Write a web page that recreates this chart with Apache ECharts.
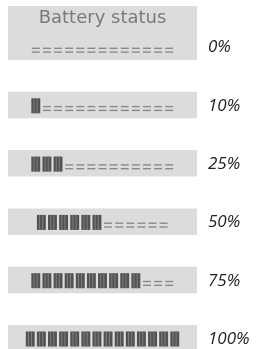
<!DOCTYPE html>
<html>
<head>
<meta charset="utf-8">
<script src="https://cdn.jsdelivr.net/npm/echarts@6/dist/echarts.min.js"></script>
<style>
  html, body { margin: 0; padding: 0; background: #fff; }
  #chart { width: 257px; height: 349px; }
</style>
</head>
<body>
<div id="chart"></div>
<script>
// battery levels, one row each
const levels = ['0%', '10%', '25%', '50%', '75%', '100%'];
// number of solid blocks shown per row
const filledCells = [0, 1, 3, 6, 10, 14];
// number of "=" placeholders per row
const emptyCells = [13, 12, 10, 6, 3, 0];
const heading = 'Battery status';

const rows = levels.map((l, i) => [i, filledCells[i], emptyCells[i]]);

const chart = echarts.init(document.getElementById('chart'));

function renderRow(params, api) {
  const row = api.value(0);
  const filled = api.value(1);
  const empty = api.value(2);
  const cs = params.coordSys;
  const cell = api.size([1, 0])[0];
  const yc = api.coord([0, row])[1];
  const start = -(filled + empty) / 2;
  const children = [];

  // grey panel behind the row
  const top = row === 0 ? yc - 41.5 : yc - 14;
  children.push({
    type: 'rect',
    shape: { x: cs.x, y: top, width: cs.width, height: yc + 12.5 - top },
    style: { fill: '#dcdcdd' }
  });

  if (row === 0) {
    children.push({
      type: 'text',
      style: {
        text: heading,
        x: cs.x + cs.width / 2,
        y: yc - 29.5,
        align: 'center',
        verticalAlign: 'middle',
        fill: '#7a7a7a',
        font: '18px "DejaVu Sans"'
      }
    });
  }

  for (let k = 0; k < filled; k++) {
    const p = api.coord([start + k, row]);
    const x0 = p[0] + 1.1;
    const w = cell - 2.2;
    children.push({
      type: 'rect',
      shape: { x: x0, y: yc - 7.5, width: w, height: 15 },
      style: { fill: '#525252' }
    });
    [0.3, 0.65].forEach(f => {
      children.push({
        type: 'line',
        shape: { x1: x0 + w * f, y1: yc - 7.5, x2: x0 + w * f, y2: yc + 7.5 },
        style: { stroke: '#808080', lineWidth: 1 }
      });
    });
  }

  for (let k = 0; k < empty; k++) {
    const p = api.coord([start + filled + k, row]);
    const x0 = p[0] + 1.6;
    const x1 = p[0] + cell - 1.6;
    [0.8, 4.6].forEach(dy => {
      children.push({
        type: 'line',
        shape: { x1: x0, y1: yc + dy, x2: x1, y2: yc + dy },
        style: { stroke: '#8a8a8a', lineWidth: 1.4 }
      });
    });
  }

  return { type: 'group', children };
}

chart.setOption({
  animation: false,
  backgroundColor: '#fff',
  grid: { left: 8, right: 60, top: 47.5, bottom: 10 },
  xAxis: {
    type: 'value',
    min: -8.5,
    max: 8.5,
    show: false
  },
  yAxis: {
    type: 'value',
    min: 0,
    max: 5,
    interval: 1,
    inverse: true,
    position: 'right',
    axisLine: { show: false },
    axisTick: { show: false },
    splitLine: { show: false },
    axisLabel: {
      margin: 11,
      align: 'left',
      fontSize: 17,
      fontStyle: 'italic',
      fontFamily: 'Open Sans',
      color: '#222',
      formatter: v => levels[v]
    }
  },
  series: [{
    type: 'custom',
    renderItem: renderRow,
    clip: false,
    data: rows
  }]
});
</script>
</body>
</html>
